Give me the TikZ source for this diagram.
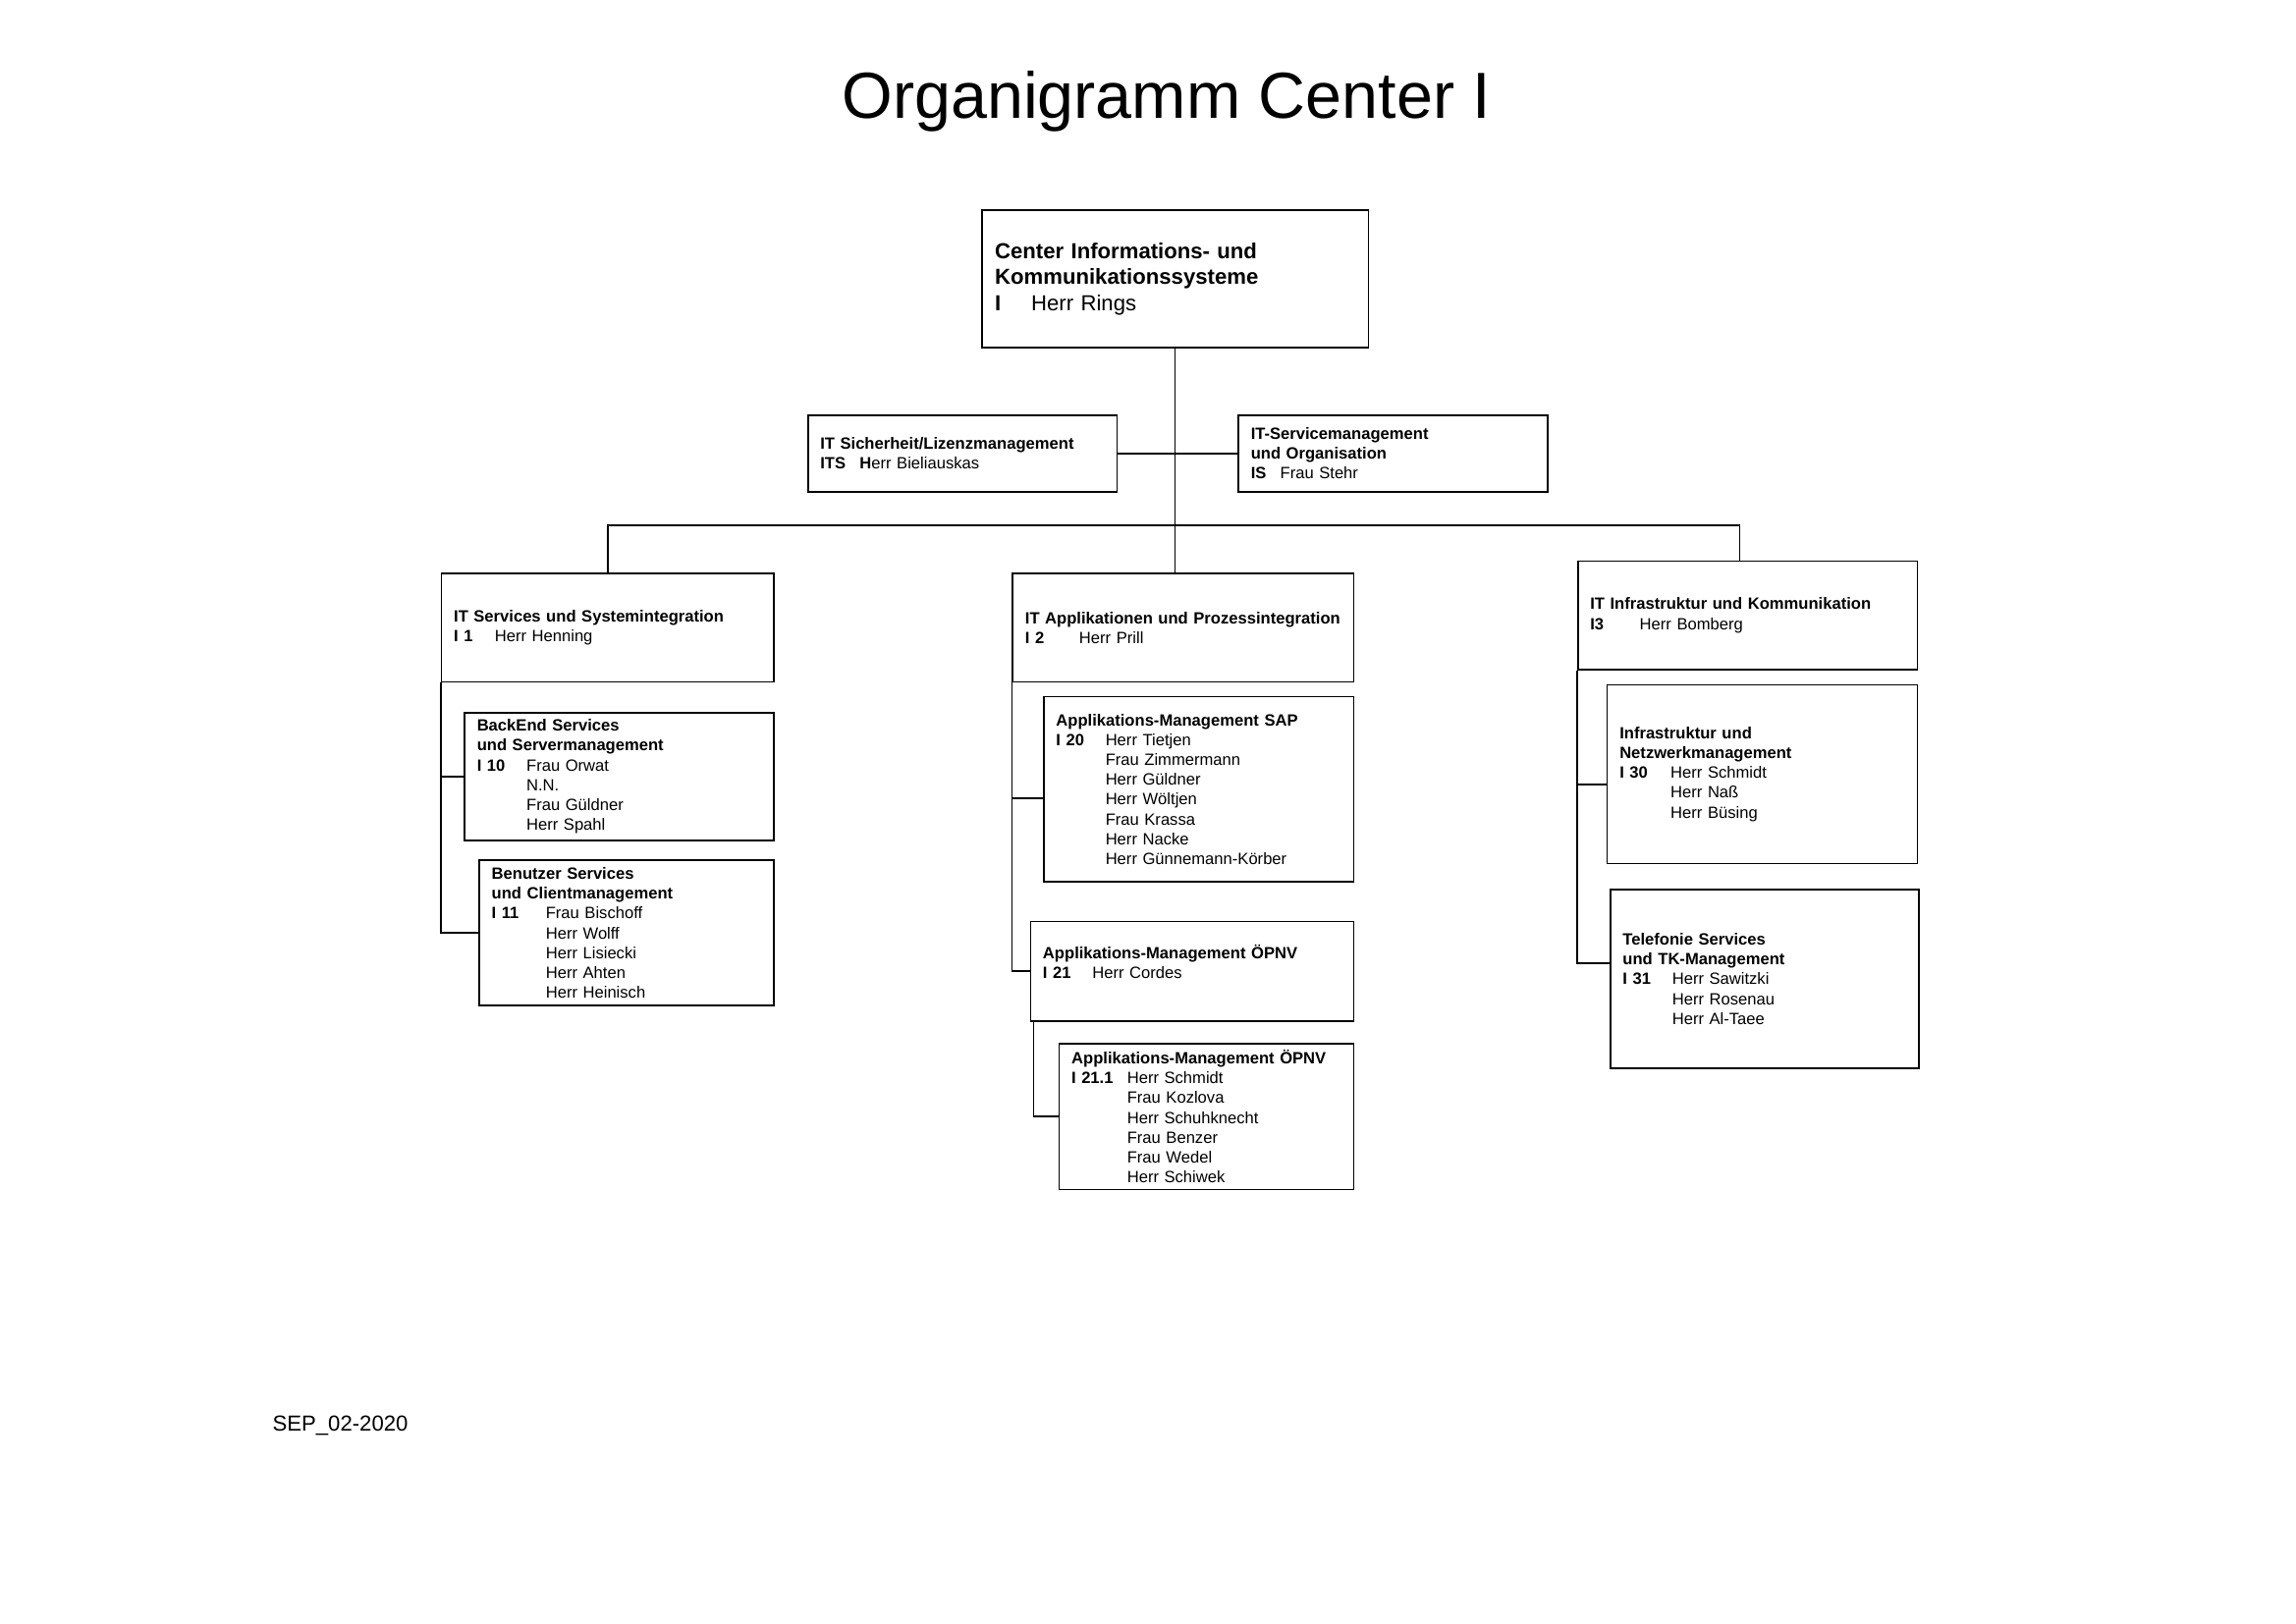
\documentclass[tikz,border=0pt]{standalone}
\usepackage{fontspec}
\setmainfont{Liberation Sans}

\newcommand{\kz}[2]{\makebox[#1][l]{\textbf{#2}}}
\newcommand{\nx}[1]{\hspace*{#1}}

\begin{document}
\begin{tikzpicture}

\tikzstyle{unit}=[rectangle, draw=black, line width=0.6pt, anchor=north west, align=left, inner xsep=0.16cm, inner ysep=0pt, font=\fontsize{6}{7.3}\selectfont]
\tikzstyle{head}=[unit, font=\fontsize{8}{9.7}\selectfont, inner xsep=0.17cm]
\tikzstyle{connect}=[line width=0.6pt]

\useasboundingbox (0,0) rectangle (29.7,-21.0);

\node[anchor=base, inner sep=0pt, font=\fontsize{24}{28}\selectfont] (title) at (15.09,-1.53) {Organigramm Center I};

\node[head, text width=4.66cm, minimum height=1.78cm] (top) at (12.69,-2.71)
  {\textbf{Center Informations- und}\\\textbf{Kommunikationssysteme}\\\kz{0.47cm}{I}Herr Rings};

\node[unit, text width=3.68cm, minimum height=0.99cm] (its) at (10.44,-5.36)
  {\textbf{IT Sicherheit/Lizenzmanagement}\\\kz{0.51cm}{ITS}\textbf{H}err Bieliauskas};
\node[unit, text width=3.68cm, minimum height=0.99cm] (is) at (16.01,-5.36)
  {\textbf{IT-Servicemanagement}\\\textbf{und Organisation}\\\kz{0.38cm}{IS}Frau Stehr};

\node[unit, text width=3.98cm, minimum height=1.40cm] (i1) at (5.70,-7.41)
  {\textbf{IT Services und Systemintegration}\\\kz{0.53cm}{I 1}Herr Henning};
\node[unit, text width=4.09cm, minimum height=1.40cm] (i2) at (13.09,-7.41)
  {\textbf{IT Applikationen und Prozessintegration}\\\kz{0.70cm}{I 2}Herr Prill};
\node[unit, text width=4.07cm, minimum height=1.40cm] (i3) at (20.40,-7.25)
  {\textbf{IT Infrastruktur und Kommunikation}\\\kz{0.64cm}{I3}Herr Bomberg};

\node[unit, text width=3.68cm, minimum height=1.65cm] (i10) at (6.00,-9.21)
  {\textbf{BackEnd Services}\\\textbf{und Servermanagement}\\\kz{0.64cm}{I 10}Frau Orwat\\
   \nx{0.64cm}N.N.\\\nx{0.64cm}Frau Güldner\\\nx{0.64cm}Herr Spahl};
\node[unit, text width=3.49cm, minimum height=1.88cm] (i11) at (6.19,-11.12)
  {\textbf{Benutzer Services}\\\textbf{und Clientmanagement}\\\kz{0.70cm}{I 11}Frau Bischoff\\
   \nx{0.70cm}Herr Wolff\\\nx{0.70cm}Herr Lisiecki\\\nx{0.70cm}Herr Ahten\\\nx{0.70cm}Herr Heinisch};

\node[unit, text width=3.69cm, minimum height=2.40cm] (i20) at (13.49,-9.00)
  {\textbf{Applikations-Management SAP}\\\kz{0.64cm}{I 20}Herr Tietjen\\
   \nx{0.64cm}Frau Zimmermann\\\nx{0.64cm}Herr Güldner\\\nx{0.64cm}Herr Wöltjen\\
   \nx{0.64cm}Frau Krassa\\\nx{0.64cm}Herr Nacke\\\nx{0.64cm}Herr Günnemann-Körber};
\node[unit, text width=3.86cm, minimum height=1.29cm] (i21) at (13.32,-11.91)
  {\textbf{Applikations-Management ÖPNV}\\\kz{0.64cm}{I 21}Herr Cordes\\\mbox{}};
\node[unit, text width=3.49cm, minimum height=1.89cm] (i211) at (13.69,-13.49)
  {\textbf{Applikations-Management ÖPNV}\\\kz{0.72cm}{I 21.1}Herr Schmidt\\
   \nx{0.72cm}Frau Kozlova\\\nx{0.72cm}Herr Schuhknecht\\\nx{0.72cm}Frau Benzer\\
   \nx{0.72cm}Frau Wedel\\\nx{0.72cm}Herr Schiwek};

\node[unit, text width=3.69cm, minimum height=2.31cm] (i30) at (20.78,-8.85)
  {\textbf{Infrastruktur und}\\\textbf{Netzwerkmanagement}\\\kz{0.66cm}{I 30}Herr Schmidt\\
   \nx{0.66cm}Herr Naß\\\nx{0.66cm}Herr Büsing};
\node[unit, text width=3.67cm, minimum height=2.31cm] (i31) at (20.82,-11.50)
  {\textbf{Telefonie Services}\\\textbf{und TK-Management}\\\kz{0.64cm}{I 31}Herr Sawitzki\\
   \nx{0.64cm}Herr Rosenau\\\nx{0.64cm}Herr Al-Taee};

\node[anchor=base west, inner sep=0pt, font=\fontsize{8}{9.6}\selectfont] (stand) at (3.52,-18.51) {SEP\_02-2020};

\coordinate (bus) at (15.19,-6.80);

\draw[connect] (top.south) -- (top.south |- i2.north);
\draw[connect] (its.east) -- (is.west);
\draw[connect] (i1.north) |- (bus) -| ([xshift=-0.1cm]i3.north);

\draw[connect] (i1.south west) |- (i11.west);
\draw[connect] (i1.south west |- i10.west) -- (i10.west);

\draw[connect] ([yshift=-0.12cm]i20.west) -| (i2.south west);
\draw[connect] (i2.south west) |- (i21.west);
\draw[connect] ([xshift=0.05cm]i21.south west) |- (i211.west);

\draw[connect] ([yshift=-0.13cm]i30.west) -| (i3.south west);
\draw[connect] (i3.south west) |- ([yshift=0.2cm]i31.west);

\end{tikzpicture}
\end{document}
